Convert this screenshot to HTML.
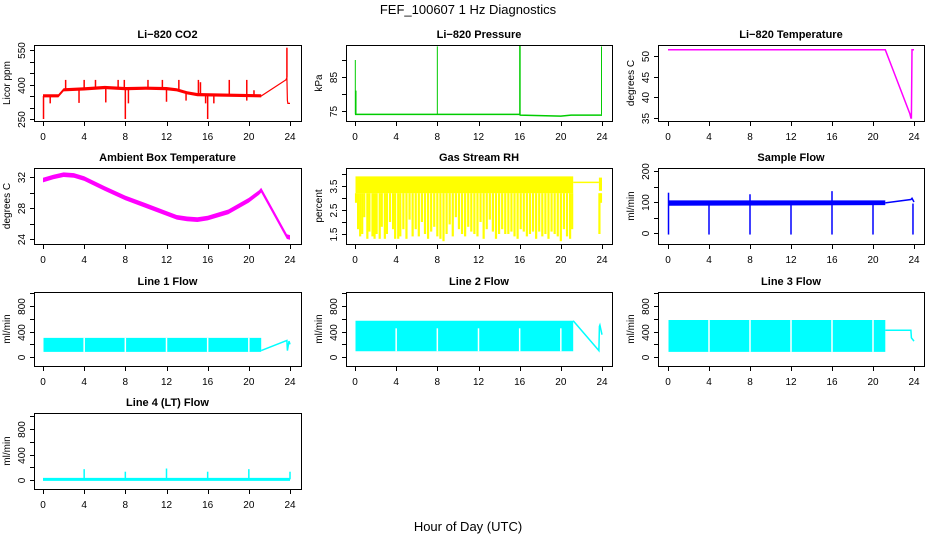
<!DOCTYPE html>
<html><head><meta charset="utf-8"><style>
html,body{margin:0;padding:0;background:#fff;}
svg text{font-family:"Liberation Sans",sans-serif;}
</style></head><body>
<svg id="chart" width="936" height="540" xmlns="http://www.w3.org/2000/svg">
<rect width="936" height="540" fill="#fff"/>
<text x="468" y="14" font-size="13" text-anchor="middle">FEF_100607  1 Hz Diagnostics</text>
<text x="468" y="531" font-size="13" text-anchor="middle">Hour of Day (UTC)</text>
</svg>
<script>
// ---- data ----
var xTicks = [0,4,8,12,16,20,24];
// CO2
var co2Hours = [0,0.05,1.5,2,4,6,8,10,12,13,14,15,21.2,23.6,23.7,23.75,23.8,24];
var co2Vals  = [350,350,350,376,380,386,381,383,381,376,363,355,350,420,430,330,318,318];
var co2SpikeHours = [2.2,4,5.1,7.3,7.9,10.2,11.6,13.2,15.1,15.3,18.1,19.8,20.5,0.05,8,16,0.7,3.5,6.1,8.3,12,13.9,15.8,16.6,19.8,23.7];
var co2SpikeVals  = [420,420,420,420,420,420,420,420,420,410,420,420,375,250,250,250,318,320,322,318,325,330,318,318,330,560];
// Pressure
var presHours = [0,0.05,0.1,8,8.05,16,16.05,20,21,23.9,24];
var presVals  = [74,74,74,74,74,74,73.8,73.5,73.8,73.8,73.8];
var presSpikeHours = [0.03,0.1,8,16,16.05,23.95];
var presSpikeVals  = [90,81,94,94.5,94.5,94];
// Li-820 temperature
var ltHours = [0,21.2,23.6,23.7,23.75,23.8,24];
var ltVals  = [51.5,51.5,36,35,35,51.5,51.5];
// Ambient temperature
var atHours = [0,1,2,3,4,6,8,10,12,13,14,15,16,18,20,21,21.2,23.7,24];
var atVals  = [31.6,32.0,32.3,32.2,31.8,30.5,29.3,28.3,27.3,26.8,26.6,26.5,26.7,27.5,29.0,30.0,30.3,24.3,24.2];
var atHalf = 0.3;
// RH
var rhBandHours = [0.05,21.2];
var rhBandTop = 3.9, rhBandBottom = 3.2;
var rhFlatHours = [21.2,23.7];
var rhFlatVal = 3.65;
var rhDipHours = [0.1,0.3,0.5,0.7,0.9,1.2,1.4,1.7,1.9,2.1,2.4,2.6,2.9,3.1,3.4,3.7,3.9,4.2,4.4,4.7,5.0,5.3,5.6,5.9,6.2,6.5,6.8,7.1,7.4,7.7,8.0,8.3,8.6,8.9,9.2,9.5,9.8,10.1,10.4,10.7,11.0,11.3,11.6,11.9,12.2,12.5,12.8,13.1,13.4,13.7,14.0,14.3,14.6,14.9,15.2,15.5,15.8,16.1,16.4,16.7,17.0,17.3,17.6,17.9,18.2,18.5,18.8,19.1,19.4,19.7,20.0,20.3,20.6,20.9,21.1,23.75,23.9];
var rhDipVals  = [2.8,1.7,1.4,1.5,2.2,1.3,1.6,1.4,1.3,1.5,1.3,1.8,1.3,1.5,2.0,1.7,1.3,1.3,1.4,1.7,1.3,2.1,1.4,1.7,1.4,2.0,1.5,1.3,1.6,1.8,1.4,1.3,1.2,1.5,1.9,1.4,2.2,1.7,1.5,1.4,1.8,1.6,1.5,1.4,2.0,1.3,1.7,2.1,1.6,1.3,1.5,1.7,1.5,1.5,1.6,1.4,1.3,1.7,1.6,1.4,1.5,1.6,1.3,1.6,1.4,1.5,1.3,1.6,1.5,1.4,1.2,1.7,1.4,1.3,1.7,1.5,2.8];
// Sample flow
var sfHours = [0.05,21.2];
var sfTop = [105,105];
var sfBottom = [88,90];
var sfTailHours = [21.2,23.7,23.8,24];
var sfTailVals = [97,108,112,100];
var sfSpikeHours = [0.05,4,8,12,16,20,23.9,8,16,0.05];
var sfSpikeVals  = [-5,-5,-5,-5,-5,-5,-5,125,135,130];
// Line flows
var l1Hours = [0.05,21.2];   var l1Low = 80;  var l1High = 300;
var l1TailHours = [21.2,23.7,23.75,23.9,24]; var l1TailVals = [100,260,100,250,200];
var l2Hours = [0.05,21.2];   var l2Low = 90;  var l2High = 570;
var l2TailHours = [21.2,23.7,23.75,23.8,24]; var l2TailVals = [570,100,480,500,350];
var l3Hours = [0.05,21.2];   var l3Low = 80;  var l3High = 580;
var l3TailHours = [21.2,23.7,23.75,24]; var l3TailVals = [420,420,300,250];
var gapHours = [4,8,12,16,20];
var l4Hours = [0,24]; var l4Val = 10;
var l4SpikeHours = [4,8,12,16,20,24];
var l4SpikeVals  = [170,130,180,130,170,130];

// ---- drawing ----
var NS='http://www.w3.org/2000/svg';
var svg=document.getElementById('chart');
function mk(tag,attrs,parent){var e=document.createElementNS(NS,tag);for(var k in attrs)e.setAttribute(k,attrs[k]);(parent||svg).appendChild(e);return e;}
var cols=[{b0:34,b1:301,x0:43,x24:290},{b0:346,b1:612,x0:355,x24:602},{b0:658,b1:924,x0:668,x24:914}];
var rows=[{t:45,b:121},{t:168,b:244},{t:292,b:366},{t:413,b:489}];
function panel(name,title,ytitle,ci,ri,yv0,yp0,yv1,yp1,ticks,labels){
  var c=cols[ci],r=rows[ri];
  var g=mk('g',{});
  
  
  var xs=function(h){return c.x0+(c.x24-c.x0)*h/24;};
  var ys=function(v){return yp0+(yp1-yp0)*(v-yv0)/(yv1-yv0);};
  var cl='clip'+ci+ri;
  var cp=mk('clipPath',{id:cl},g);mk('rect',{x:c.b0,y:r.t,width:c.b1-c.b0,height:r.b-r.t},cp);
  var plot=mk('g',{'clip-path':'url(#'+cl+')'},g);
  
  
  var t=mk('text',{x:(c.b0+c.b1)/2,y:r.t-7,'font-size':'11','font-weight':'bold','text-anchor':'middle'},g);t.textContent=title;
  
  
  var bx=mk('rect',{x:c.b0+0.5,y:r.t+0.5,width:c.b1-c.b0,height:r.b-r.t,fill:'none',stroke:'#000','stroke-width':1},g);
  
  
  var xa=mk('g',{},g);
  
  
  xTicks.forEach(function(h){
    mk('line',{x1:Math.round(xs(h))+0.5,x2:Math.round(xs(h))+0.5,y1:r.b+1,y2:r.b+5,stroke:'#000'},xa);
    var tx=mk('text',{x:xs(h),y:r.b+19,'font-size':'10','text-anchor':'middle'},xa);tx.textContent=h;
  });
  var ya=mk('g',{},g);
  
  
  var vis=ticks.filter(function(v){var p=ys(v);return p>=r.t-0.5&&p<=r.b+0.5;});
  vis.forEach(function(v){
    var p=Math.round(ys(v))+0.5;
    mk('line',{x1:c.b0-4,x2:c.b0,y1:p,y2:p,stroke:'#000'},ya);
    if(labels.indexOf(v)>=0){var ty=mk('text',{x:0,y:0,'font-size':'10','text-anchor':'middle',transform:'translate('+(c.b0-9)+','+p+') rotate(-90)'},ya);ty.textContent=v;}
  });
  var yt=mk('text',{x:0,y:0,'font-size':'10','text-anchor':'middle',transform:'translate('+(c.b0-24)+','+((r.t+r.b)/2)+') rotate(-90)'},g);yt.textContent=ytitle;
  
  
  return {g:plot,xs:xs,ys:ys};
}
function line(P,hs,vs,col,w,nm){var d=hs.map(function(h,i){return (i?'L':'M')+P.xs(h).toFixed(1)+' '+P.ys(vs[i]).toFixed(1);}).join('');var e=mk('path',{d:d,fill:'none',stroke:col,'stroke-width':w||1},P.g);return e;}
function band(P,hs,lo,hi,col,nm){var d='';hs.forEach(function(h,i){d+=(i?'L':'M')+P.xs(h).toFixed(1)+' '+P.ys(hi[i]).toFixed(1);});for(var i=hs.length-1;i>=0;i--)d+='L'+P.xs(hs[i]).toFixed(1)+' '+P.ys(lo[i]).toFixed(1);d+='Z';var e=mk('path',{d:d,fill:col},P.g);}
function spikes(P,hs,base,vs,col,w,nm){hs.forEach(function(h,i){var b=typeof base==='number'?base:base(h);var e=mk('line',{x1:P.xs(h),x2:P.xs(h),y1:P.ys(b),y2:P.ys(vs[i]),stroke:col,'stroke-width':w||1.5},P.g);});}
function interp(hs,vs){return function(h){for(var i=1;i<hs.length;i++){if(h<=hs[i]){var f=(h-hs[i-1])/(hs[i]-hs[i-1]||1);return vs[i-1]+f*(vs[i]-vs[i-1]);}}return vs[vs.length-1];};}
function gaps(P,lo,hi,nm){gapHours.forEach(function(h){var e=mk('line',{x1:P.xs(h),x2:P.xs(h),y1:P.ys(hi),y2:P.ys(lo),stroke:'#fff','stroke-width':1.5},P.g);});}

// CO2
var P=panel('co2-panel','Li\u2212820 CO2','Licor ppm',0,0,250,119,550,50,[250,300,350,400,450,500,550],[250,400,550]);
var co2f=interp(co2Hours,co2Vals);
band(P,co2Hours.slice(0,13),co2Vals.slice(0,13).map(function(v){return v-6;}),co2Vals.slice(0,13).map(function(v){return v+8;}),'#f00','co2-band');
line(P,co2Hours,co2Vals,'#f00',1.2,'co2-line');
spikes(P,co2SpikeHours,co2f,co2SpikeVals,'#f00',1.5,'co2-spike');
// Pressure
P=panel('pressure-panel','Li\u2212820 Pressure','kPa',1,0,75,111,85,77,[75,80,85,90],[75,85]);
line(P,presHours,presVals,'#0c0',1.5,'pressure-line');
spikes(P,presSpikeHours,74,presSpikeVals,'#0c0',1,'pressure-spike');
// Li temp
P=panel('li820-temperature-panel','Li\u2212820 Temperature','degrees C',2,0,35,118,50,56,[35,40,45,50],[35,40,45,50]);
line(P,ltHours,ltVals,'#f0f',1.5,'li820-temperature-line');
// Ambient
P=panel('ambient-temperature-panel','Ambient Box Temperature','degrees C',0,1,24,239,32,177,[24,26,28,30,32],[24,28,32]);
band(P,atHours,atVals.map(function(v){return v-atHalf;}),atVals.map(function(v){return v+atHalf;}),'#f0f','ambient-temperature-band');
// RH
P=panel('rh-panel','Gas Stream RH','percent',1,1,1.5,234,3.5,186,[1.5,2,2.5,3,3.5,4],[1.5,2.5,3.5]);
band(P,rhBandHours,[rhBandBottom,rhBandBottom],[rhBandTop,rhBandTop],'#ff0','rh-band');
spikes(P,rhDipHours,rhBandBottom,rhDipVals,'#ff0',2.2,'rh-dip');
line(P,rhFlatHours,[rhFlatVal,rhFlatVal],'#ff0',1.5,'rh-flat-line');
band(P,[23.7,24],[3.3,3.3],[3.85,3.85],'#ff0','rh-tail-band');
// Sample flow
P=panel('sample-flow-panel','Sample Flow','ml/min',2,1,0,233,200,171,[0,50,100,150,200],[0,100,200]);
band(P,sfHours,sfBottom,sfTop,'#00f','sample-flow-band');
line(P,sfTailHours,sfTailVals,'#00f',1.5,'sample-flow-tail');
spikes(P,sfSpikeHours,95,sfSpikeVals,'#00f',1.5,'sample-flow-spike');
// Line 1
var lt=[0,200,400,600,800,1000];
P=panel('line1-flow-panel','Line 1 Flow','ml/min',0,2,0,357,800,306,lt,[0,400,800]);
band(P,l1Hours,[l1Low,l1Low],[l1High,l1High],'#0ff','line1-band');gaps(P,l1Low,l1High,'line1-gap');
line(P,l1TailHours,l1TailVals,'#0ff',1.5,'line1-tail');
// Line 2
P=panel('line2-flow-panel','Line 2 Flow','ml/min',1,2,0,357,800,306,lt,[0,400,800]);
band(P,l2Hours,[l2Low,l2Low],[l2High,l2High],'#0ff','line2-band');gaps(P,l2Low,450,'line2-gap');
line(P,l2TailHours,l2TailVals,'#0ff',1.5,'line2-tail');
// Line 3
P=panel('line3-flow-panel','Line 3 Flow','ml/min',2,2,0,357,800,306,lt,[0,400,800]);
band(P,l3Hours,[l3Low,l3Low],[l3High,l3High],'#0ff','line3-band');gaps(P,l3Low,l3High,'line3-gap');
line(P,l3TailHours,l3TailVals,'#0ff',1.5,'line3-tail');
// Line 4
P=panel('line4-flow-panel','Line 4 (LT) Flow','ml/min',0,3,0,480,800,429,lt,[0,400,800]);
line(P,l4Hours,[l4Val,l4Val],'#0ff',3,'line4-line');
spikes(P,l4SpikeHours,l4Val,l4SpikeVals,'#0ff',1.5,'line4-spike');
</script>
</body></html>
